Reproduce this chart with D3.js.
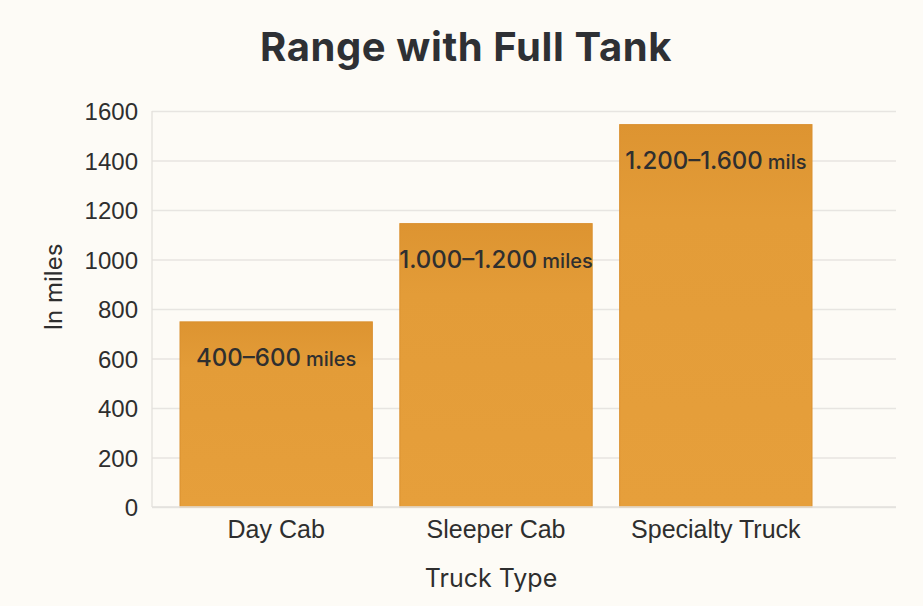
<!DOCTYPE html>
<html>
<head>
<meta charset="utf-8">
<script src="https://cdn.jsdelivr.net/npm/d3@7"></script>
<style>
  html, body { margin: 0; padding: 0; background: #fdfbf6; }
  svg { display: block; font-family: Inter, "Noto Sans", sans-serif; }
</style>
</head>
<body>
<svg id="chart"></svg>
<script>
// data
const categories = ['Day Cab', 'Sleeper Cab', 'Specialty Truck'];
const values = [748, 1145, 1545];
const rangeLabels = ['400\u2013600', '1.000\u20131.200', '1.200\u20131.600'];
const unitLabels = ['miles', 'miles', 'mils'];
const yTicks = [0, 200, 400, 600, 800, 1000, 1200, 1400, 1600];

const width = 923, height = 606;
const plotLeft = 152, plotRight = 896, plotTop = 111, plotBottom = 507;

const svg = d3.select('#chart')
  .attr('width', width)
  .attr('height', height);

svg.append('rect')
  .attr('width', width)
  .attr('height', height)
  .attr('fill', '#fdfbf6');

// gradient, bars are a little darker at the top
const grad = svg.append('defs').append('linearGradient')
  .attr('id', 'barFill')
  .attr('x1', 0).attr('y1', 0).attr('x2', 0).attr('y2', 1);
grad.append('stop').attr('offset', '0%').attr('stop-color', '#dd9431');
grad.append('stop').attr('offset', '25%').attr('stop-color', '#e39c38');
grad.append('stop').attr('offset', '100%').attr('stop-color', '#e69f3b');

const x = d3.scaleBand()
  .domain(categories)
  .range([180, 812])
  .paddingInner(0.125)
  .paddingOuter(0);

const y = d3.scaleLinear()
  .domain([0, 1600])
  .range([plotBottom, plotTop]);

// y axis + gridlines
const yAxis = svg.append('g')
  .attr('transform', `translate(${plotLeft},0)`)
  .call(d3.axisLeft(y)
    .tickValues(yTicks)
    .tickFormat(d3.format('d'))
    .tickSize(-(plotRight - plotLeft))
    .tickPadding(14));
yAxis.select('.domain').remove();
yAxis.selectAll('.tick line')
  .attr('stroke', '#e7e5e1')
  .attr('stroke-width', 1.3);
yAxis.selectAll('.tick text')
  .attr('fill', '#2e2e2e')
  .attr('font-size', 24)
  .attr('dy', '0.36em');

svg.append('line')
  .attr('x1', plotLeft).attr('x2', plotLeft)
  .attr('y1', plotTop).attr('y2', plotBottom)
  .attr('stroke', '#e3e1dc')
  .attr('stroke-width', 1.3);

// bars
svg.selectAll('rect.bar')
  .data(values)
  .enter()
  .append('rect')
  .attr('class', 'bar')
  .attr('x', (d, i) => x(categories[i]))
  .attr('y', d => y(d))
  .attr('width', x.bandwidth())
  .attr('height', d => y(0) - y(d))
  .attr('fill', 'url(#barFill)')
  .attr('stroke', '#da902f')
  .attr('stroke-width', 1);

// bottom line drawn over bars
svg.append('line')
  .attr('x1', plotLeft).attr('x2', plotRight)
  .attr('y1', plotBottom).attr('y2', plotBottom)
  .attr('stroke', '#e3e1dc')
  .attr('stroke-width', 1.3);

// labels inside bars
const lab = svg.selectAll('text.barlabel')
  .data(values)
  .enter()
  .append('text')
  .attr('class', 'barlabel')
  .attr('x', (d, i) => x(categories[i]) + x.bandwidth() / 2)
  .attr('y', d => y(d) + 44)
  .attr('text-anchor', 'middle')
  .attr('fill', '#2f2f2f')
  .attr('font-weight', 500);
lab.append('tspan')
  .attr('font-size', 24)
  .text((d, i) => rangeLabels[i]);
lab.append('tspan')
  .attr('font-size', 20)
  .attr('dx', 5)
  .text((d, i) => unitLabels[i]);

// x axis labels
const xAxis = svg.append('g')
  .attr('transform', `translate(0,${plotBottom})`)
  .call(d3.axisBottom(x).tickSize(0).tickPadding(13));
xAxis.select('.domain').remove();
xAxis.selectAll('.tick text')
  .attr('fill', '#2e2e2e')
  .attr('font-size', 25)
  .attr('dy', '0.71em');

// titles
svg.append('text')
  .attr('x', 466)
  .attr('y', 61)
  .attr('text-anchor', 'middle')
  .attr('font-size', 40)
  .attr('font-weight', 700)
  .attr('letter-spacing', 0.6)
  .attr('fill', '#2e3034')
  .text('Range with Full Tank');

svg.append('text')
  .attr('x', 491)
  .attr('y', 587)
  .attr('text-anchor', 'middle')
  .attr('font-size', 25)
  .attr('fill', '#2e2e2e')
  .text('Truck Type');

svg.append('text')
  .attr('transform', 'translate(62,287) rotate(-90)')
  .attr('text-anchor', 'middle')
  .attr('font-size', 24)
  .attr('fill', '#2e2e2e')
  .text('In miles');
</script>
</body>
</html>
